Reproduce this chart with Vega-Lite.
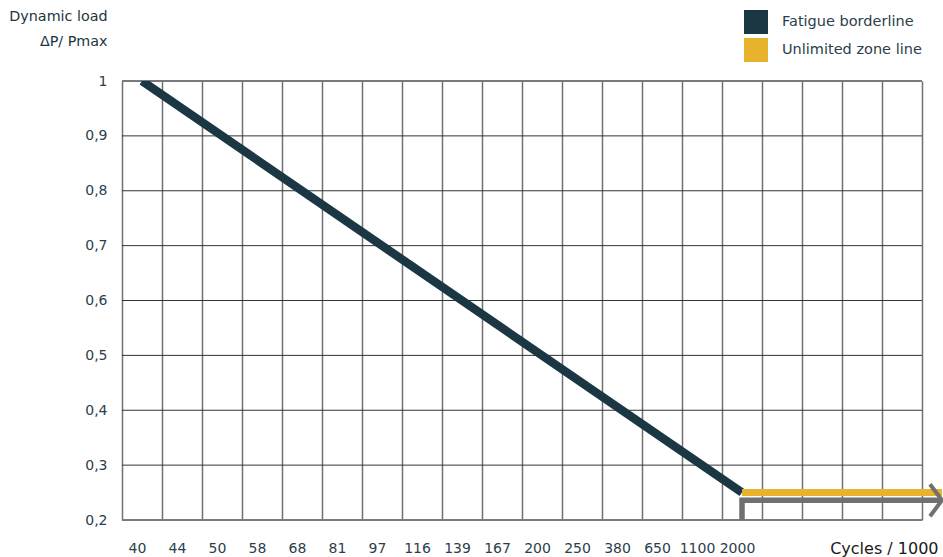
{
  "$schema": "https://vega.github.io/schema/vega-lite/v6.json",
  "width": 800,
  "height": 439,
  "autosize": {"type": "none"},
  "padding": {"left": 122, "top": 81, "right": 21, "bottom": 37},
  "background": "#ffffff",
  "config": {
    "view": {"stroke": null},
    "font": "DejaVu Sans",
    "axis": {"labelFont": "DejaVu Sans", "titleFont": "DejaVu Sans"},
    "legend": {"labelFont": "DejaVu Sans"}
  },
  "datasets": {
    "levels": [
      {"load": 0.2}, {"load": 0.3}, {"load": 0.4}, {"load": 0.5}, {"load": 0.6},
      {"load": 0.7}, {"load": 0.8}, {"load": 0.9}, {"load": 1}
    ],
    "fatigue": [
      {"cycles": "40", "load": 1, "series": "Fatigue borderline"},
      {"cycles": "2000", "load": 0.25, "series": "Fatigue borderline"}
    ],
    "unlimited": [
      {"cycles": "2000", "load": 0.25, "series": "Unlimited zone line"},
      {"cycles": "∞", "load": 0.25, "series": "Unlimited zone line"}
    ],
    "zone": [
      {"cycles": "2000", "load": 0.2, "step": 1},
      {"cycles": "2000", "load": 0.236, "step": 2},
      {"cycles": "∞", "load": 0.236, "step": 3}
    ],
    "arrowhead": [
      {"cycles": "∞", "load": 0.236}
    ]
  },
  "encoding": {
    "x": {
      "field": "cycles",
      "type": "nominal",
      "sort": null,
      "scale": {
        "type": "band",
        "domain": ["40", "44", "50", "58", "68", "81", "97", "116", "139", "167", "200", "250", "380", "650", "1100", "2000", " ", "  ", "   ", "    ", "∞"],
        "range": [0, 840],
        "paddingInner": 0,
        "paddingOuter": 0
      },
      "axis": {
        "title": "Cycles / 1000",
        "titleX": 816,
        "titleY": 28,
        "titleAlign": "right",
        "titleBaseline": "middle",
        "titleFontSize": 16,
        "titleFontWeight": "normal",
        "titleColor": "#1a1a1a",
        "tickBand": "extent",
        "grid": true,
        "gridColor": "#707070",
        "gridWidth": 1.5,
        "domain": false,
        "ticks": false,
        "labelAngle": 0,
        "labelPadding": 21,
        "labelFontSize": 14,
        "labelColor": "#2c3e4c",
        "labelOffset": -5,
        "labelExpr": "datum.label == '∞' ? '' : datum.label"
      }
    },
    "y": {
      "field": "load",
      "type": "quantitative",
      "scale": {"domain": [0.2, 1], "nice": false, "zero": false},
      "axis": {
        "values": [0.2, 0.3, 0.4, 0.5, 0.6, 0.7, 0.8, 0.9, 1],
        "title": ["Dynamic load", "ΔP/ Pmax"],
        "titleAngle": 0,
        "titleAlign": "right",
        "titleBaseline": "top",
        "titleX": -15,
        "titleY": -72,
        "titleLineHeight": 25,
        "titleFontSize": 14.3,
        "titleFontWeight": "normal",
        "titleColor": "#1d3441",
        "labelExpr": "replace(format(datum.value, '.1~f'), '.', ',')",
        "labelPadding": 15,
        "labelFontSize": 14,
        "labelColor": "#2c3e4c",
        "ticks": false,
        "domain": false,
        "grid": false
      }
    }
  },
  "layer": [
    {
      "data": {"name": "levels"},
      "mark": {"type": "rule"},
      "encoding": {
        "x": null,
        "color": {"condition": {"test": "datum.load < 0.25 || datum.load > 0.95", "value": "#7a7a7a"}, "value": "#333333"},
        "strokeWidth": {"condition": {"test": "datum.load < 0.25 || datum.load > 0.95", "value": 2}, "value": 1}
      }
    },
    {
      "data": {"name": "zone"},
      "mark": {"type": "line", "color": "#707070", "strokeWidth": 5.5, "strokeCap": "butt", "strokeJoin": "miter"},
      "encoding": {"order": {"field": "step", "type": "quantitative"}}
    },
    {
      "data": {"name": "fatigue"},
      "mark": {"type": "line", "strokeWidth": 8.5, "strokeCap": "butt", "clip": true},
      "encoding": {
        "color": {
          "field": "series",
          "type": "nominal",
          "scale": {"domain": ["Fatigue borderline", "Unlimited zone line"], "range": ["#1b3744", "#e7b22c"]},
          "legend": {
            "orient": "none",
            "legendX": 622,
            "legendY": -71,
            "title": null,
            "padding": 0,
            "symbolType": "square",
            "symbolSize": 576,
            "symbolStrokeWidth": 0,
            "rowPadding": 4,
            "labelOffset": 14,
            "labelFontSize": 14.5,
            "labelColor": "#2c3e4c",
            "encode": {"symbols": {"update": {"fill": {"scale": "color", "field": "value"}, "fillOpacity": {"value": 1}, "strokeWidth": {"value": 0}}}}
          }
        }
      }
    },
    {
      "data": {"name": "unlimited"},
      "mark": {"type": "line", "strokeWidth": 7, "strokeCap": "butt"},
      "encoding": {"color": {"field": "series", "type": "nominal"}}
    },
    {
      "data": {"name": "arrowhead"},
      "mark": {"type": "point", "shape": "M-0.75,-1L0,0L-0.75,1", "filled": false, "size": 1024, "stroke": "#707070", "strokeWidth": 4, "opacity": 1, "strokeJoin": "miter"},
      "encoding": {}
    }
  ]
}
